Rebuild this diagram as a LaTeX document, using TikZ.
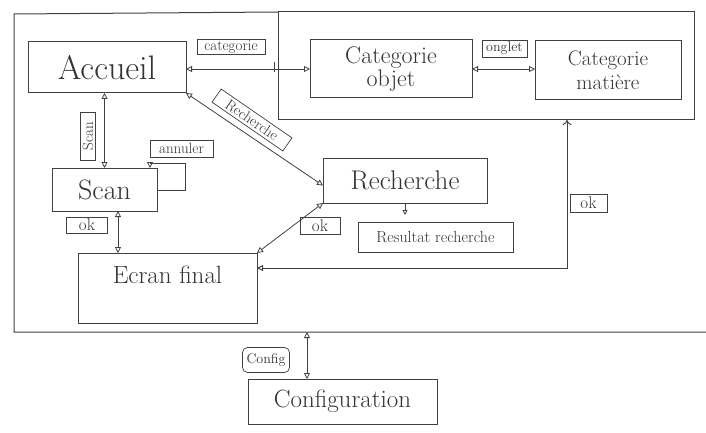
\documentclass[tikz,border=0pt]{standalone}
\usetikzlibrary{arrows.meta,calc}
\begin{document}
\begin{tikzpicture}[x=1pt,y=-1pt,
  pen/.style={draw=black!75, line width=1pt},
  box/.style={pen, rectangle, inner sep=0pt, outer sep=0pt, align=center, text=black!80},
  tag/.style={draw=black!75, line width=0.7pt, inner sep=1pt, outer sep=0pt, text=black!80, font=\fontsize{15}{15}\selectfont},
  tri/.tip={Triangle[open,length=6pt,width=6pt]},
  dbl/.style={draw=black!75, line width=0.8pt, tri-tri},
  ]
\useasboundingbox[fill=white] (0,0) rectangle (706,433);

% group box for the categories
\node[box, minimum width=416pt, minimum height=108pt] (grp) at (486,66) {};
% outer frame
\coordinate (fb) at (307,332);
\draw[pen] (grp.north west) -- (14,14) -- (14,332) -- (706,332);

% main screens
\node[box, minimum width=158pt, minimum height=51pt, font=\fontsize{34}{34}\selectfont] (acc) at (107,67.5) {Accueil};
\node[box, minimum width=162pt, minimum height=58pt, font=\fontsize{24}{23}\selectfont] (cobj) at (391,69) {Categorie\\objet};
\node[box, minimum width=146pt, minimum height=59pt, font=\fontsize{21}{24}\selectfont] (cmat) at (608,70.5) {Categorie\\matière};
\node[box, minimum width=105pt, minimum height=43pt, font=\fontsize{28}{28}\selectfont] (scan) at (104.5,189.5) {Scan};
\node[box, minimum width=164pt, minimum height=45pt, font=\fontsize{27}{27}\selectfont] (rech) at (405,180.5) {Recherche};
\node[box, minimum width=155pt, minimum height=30pt, font=\fontsize{16}{16}\selectfont] (res) at (435.5,237) {Resultat recherche};
\node[box, minimum width=179pt, minimum height=70pt, text depth=26pt, font=\fontsize{25}{25}\selectfont] (ecran) at (167.5,288) {Ecran final};
\node[box, minimum width=189pt, minimum height=45pt, font=\fontsize{25}{25}\selectfont] (conf) at (342.5,401.5) {Configuration};

% labels
\node[tag, minimum width=68pt, minimum height=15pt] (lcat) at (231,47) {categorie};
\node[tag, minimum width=45pt, minimum height=17pt, font=\fontsize{14}{14}\selectfont] (longl) at (504.5,48.5) {onglet};
\node[tag, minimum width=48pt, minimum height=15pt, rotate=90] (lscan) at (88,136) {Scan};
\node[tag, minimum width=63pt, minimum height=17pt] (lann) at (181.5,148.5) {annuler};
\node[tag, minimum width=86pt, minimum height=16pt, rotate=-34.6] (lrech) at (252,120) {Recherche};
\node[tag, minimum width=41pt, minimum height=16pt, font=\fontsize{17}{17}\selectfont] (lok1) at (87,225) {ok};
\node[tag, minimum width=40pt, minimum height=17pt, font=\fontsize{17}{17}\selectfont] (lok2) at (320,225.5) {ok};
\node[tag, minimum width=37pt, minimum height=18pt, font=\fontsize{17}{17}\selectfont] (lok3) at (588.5,203) {ok};
\node[tag, rounded corners=5pt, minimum width=47pt, minimum height=25pt, font=\fontsize{14}{14}\selectfont] (lconf) at (266,360) {Config};

% connectors
\draw[dbl] (acc.east |- cobj.west) -- (cobj.west);
\draw[pen, line width=0.8pt] ($(acc.east -| grp.west)+(-4,-5)$) -- ++(0,10);
\draw[dbl] (cobj.east) -- (cobj.east -| cmat.west);
\draw[dbl] (scan.north |- acc.south) -- (scan.north);
\draw[draw=black!75, line width=0.8pt, -{Triangle[open,length=6pt,width=6pt]}]
  ([yshift=-1pt]scan.east) -- ++(28,0) -- ++(0,-27) -- ++(-35,0) -- (scan.north -| 150,0);
\draw[dbl] (acc.south east) -- ([yshift=-5pt]rech.west);
\draw[dbl] (rech.south west) -- (ecran.north east);
\draw[dbl] (scan.south -| 118,0) -- (ecran.north -| 118,0);
\draw[draw=black!75, line width=0.8pt, -{Triangle[open,length=5pt,width=5pt]}, shorten >=7pt] (rech.south) -- (rech.south |- res.north);
\draw[draw=black!75, line width=1pt, tri-{To[length=5pt,width=9pt]}]
  ([yshift=20pt]ecran.east) -| (grp.south -| 567,0);
\draw[dbl] (fb) -- (fb |- conf.north);
\end{tikzpicture}
\end{document}
